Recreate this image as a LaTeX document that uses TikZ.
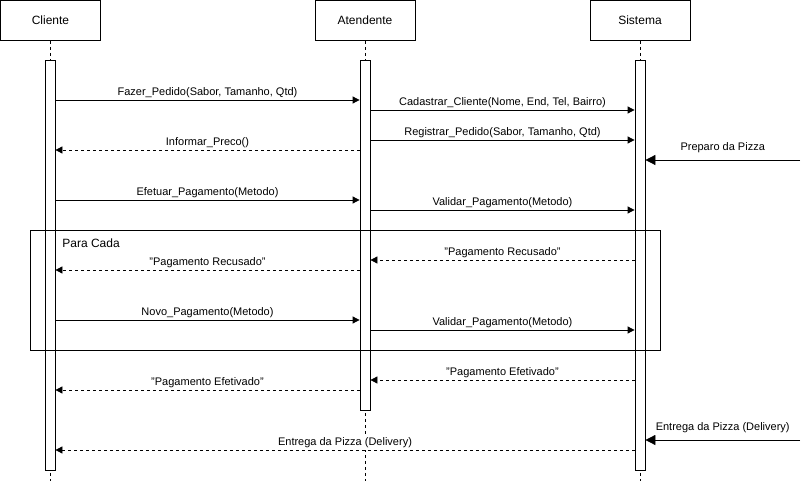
\documentclass[tikz,border=0pt]{standalone}
\usepackage{fontspec}
\setmainfont{Liberation Sans}
\usetikzlibrary{positioning,arrows.meta,calc}

\begin{document}
\begin{tikzpicture}[x=1pt, y=-1pt, line width=0.8pt,
  actor/.style={draw, minimum width=100pt, minimum height=40pt,
                font=\fontsize{12}{14}\selectfont, inner sep=0pt},
  bar/.style={draw, fill=white, minimum width=10pt, inner sep=0pt},
  life/.style={dash pattern=on 3pt off 3pt},
  msg/.style={-{Triangle[length=7pt, width=7pt]}},
  ret/.style={msg, dash pattern=on 3pt off 3pt},
  ext/.style={-{Triangle[length=10pt, width=10pt]}},
  lbl/.style={font=\fontsize{11}{13}\selectfont, above, inner sep=1.5pt, fill=white},
]
\useasboundingbox (0,0) rectangle (812,481);

% the three participants
\node[actor] (cli) at (50.5,20.5) {Cliente};
\node[actor] (ate) at (365,20.5) {Atendente};
\node[actor] (sis) at (640,20.5) {Sistema};

% lifelines
\foreach \p in {cli,ate,sis}{
  \draw[life] (\p.south) -- (\p.south |- 0,481);
}

% activation bars
\node[bar, minimum height=410pt] (cb) at (50,265) {};
\node[bar, minimum height=350pt] (ab) at (365,235) {};
\node[bar, minimum height=410pt] (sb) at (640,265) {};

% loop frame
\node[draw, minimum width=630pt, minimum height=120pt, inner sep=0pt] (loop) at (345,290) {};
\node[font=\fontsize{12}{14}\selectfont, anchor=west, inner sep=0pt] (para) at (62,243) {Para Cada};

% calls (left to right)
\foreach \y/\s/\d/\t in {
  100/cb/ab/{Fazer\_Pedido(Sabor, Tamanho, Qtd)},
  110/ab/sb/{Cadastrar\_Cliente(Nome, End, Tel, Bairro)},
  140/ab/sb/{Registrar\_Pedido(Sabor, Tamanho, Qtd)},
  200/cb/ab/{Efetuar\_Pagamento(Metodo)},
  210/ab/sb/{Validar\_Pagamento(Metodo)},
  320/cb/ab/{Novo\_Pagamento(Metodo)},
  330/ab/sb/{Validar\_Pagamento(Metodo)}}{
  \draw[msg] (\s.east |- 0,\y) -- (\d.west |- 0,\y) node[midway, lbl] {\t};
}

% replies (right to left)
\foreach \y/\s/\d/\t in {
  150/ab/cb/{Informar\_Preco()},
  260/sb/ab/{"Pagamento Recusado"},
  270/ab/cb/{"Pagamento Recusado"},
  380/sb/ab/{"Pagamento Efetivado"},
  390/ab/cb/{"Pagamento Efetivado"},
  450/sb/cb/{Entrega da Pizza (Delivery)}}{
  \draw[ret] (\s.west |- 0,\y) -- (\d.east |- 0,\y) node[midway, lbl] {\t};
}

% incoming events from outside
\coordinate (prep) at (800,160);
\coordinate (entr) at (800,440);
\draw[ext] (prep) -- (sb.east |- prep) node[midway, lbl, yshift=5pt] {Preparo da Pizza};
\draw[ext] (entr) -- (sb.east |- entr) node[midway, lbl, yshift=5pt] {Entrega da Pizza (Delivery)};
\end{tikzpicture}
\end{document}
